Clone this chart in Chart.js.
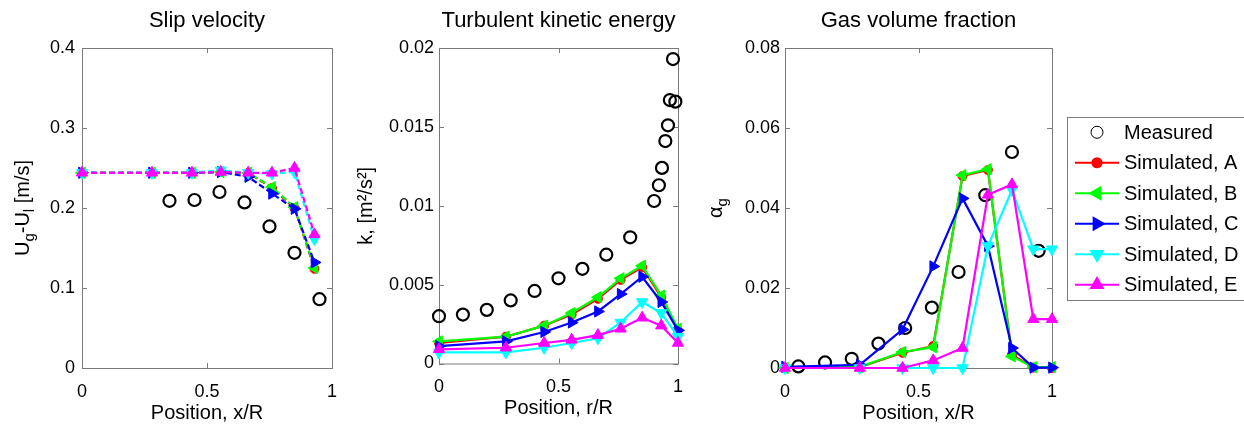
<!DOCTYPE html>
<html>
<head>
<meta charset="utf-8">
<script src="https://cdn.jsdelivr.net/npm/chart.js@4/dist/chart.umd.min.js"></script>
<style>
  body { margin: 0; background: #fff; }
  #wrap { position: relative; width: 1244px; height: 425px; overflow: hidden; }
  canvas { position: absolute; top: 0; }
</style>
</head>
<body>
<div id="wrap">
  <canvas id="slip" width="350" height="425" style="left:0;width:350px;height:425px"></canvas>
  <canvas id="tke" width="350" height="425" style="left:350px;width:350px;height:425px"></canvas>
  <canvas id="gas" width="544" height="425" style="left:700px;width:544px;height:425px"></canvas>
</div>
<script>
// positions of the simulated profiles
const posSim = [0, 0.28, 0.44, 0.555, 0.665, 0.76, 0.85, 0.93];
const posSimWall = [0, 0.28, 0.44, 0.555, 0.665, 0.76, 0.85, 0.93, 1];

// slip velocity [m/s]
const slipPosMeas = [0.35, 0.45, 0.55, 0.65, 0.75, 0.85, 0.95];
const slipMeas = [0.209, 0.210, 0.220, 0.207, 0.177, 0.144, 0.086];
const slipA = [0.244, 0.244, 0.244, 0.245, 0.244, 0.225, 0.200, 0.124];
const slipB = [0.244, 0.244, 0.244, 0.245, 0.244, 0.226, 0.201, 0.125];
const slipC = [0.244, 0.244, 0.244, 0.245, 0.239, 0.218, 0.199, 0.132];
const slipD = [0.244, 0.244, 0.244, 0.247, 0.244, 0.243, 0.245, 0.161];
const slipE = [0.244, 0.244, 0.244, 0.245, 0.244, 0.244, 0.250, 0.167];

// turbulent kinetic energy [m2/s2]
const tkePosMeas = [0, 0.1, 0.2, 0.3, 0.4, 0.5, 0.6, 0.7, 0.8, 0.9, 0.92, 0.933, 0.947, 0.958, 0.966, 0.979, 0.989];
const tkeMeas = [0.0030, 0.0031, 0.0034, 0.0040, 0.0046, 0.0054, 0.0060, 0.0069, 0.0080, 0.0103, 0.0113, 0.0124, 0.0141, 0.0151, 0.0167, 0.0193, 0.0166];
const tkeA = [0.0013, 0.0017, 0.0024, 0.0031, 0.0041, 0.0053, 0.0061, 0.0042, 0.0021];
const tkeB = [0.0014, 0.0017, 0.0024, 0.0032, 0.0042, 0.0054, 0.0062, 0.0043, 0.0022];
const tkeC = [0.0011, 0.0014, 0.0020, 0.0026, 0.0033, 0.0044, 0.0055, 0.0039, 0.0021];
const tkeD = [0.0007, 0.0007, 0.0010, 0.0013, 0.0016, 0.0026, 0.0039, 0.0032, 0.0017];
const tkeE = [0.0009, 0.0010, 0.0013, 0.0015, 0.0018, 0.0022, 0.0029, 0.0024, 0.0013];

// gas volume fraction
const gasPosMeas = [0.05, 0.15, 0.25, 0.35, 0.45, 0.55, 0.65, 0.75, 0.85, 0.95];
const gasMeas = [0.0004, 0.0014, 0.0023, 0.0061, 0.0100, 0.0151, 0.0240, 0.0432, 0.0540, 0.0293];
const gasA = [0, 0.0002, 0.0038, 0.0055, 0.0480, 0.0495, 0.0033, 0.0001, 0];
const gasB = [0, 0.0003, 0.0040, 0.0052, 0.0482, 0.0497, 0.0029, 0.0002, 0.0002];
const gasC = [0.0003, 0.0008, 0.0096, 0.0254, 0.0424, 0.0305, 0.0050, 0.0001, 0.0001];
const gasD = [0, 0, 0, 0, 0, 0.0305, 0.0445, 0.0297, 0.0297];
const gasE = [0, 0, 0, 0.0019, 0.0050, 0.0433, 0.0459, 0.0122, 0.0122];

const FONT = '"Liberation Sans", Arial, Helvetica, sans-serif';
Chart.defaults.font.family = FONT;
Chart.defaults.color = '#000';

const fmt = v => String(+Number(v).toFixed(4));

function pts(xs, ys) {
  return xs.map((x, i) => ({ x: x, y: ys[i] }));
}

function measured(xs, ys) {
  return {
    label: 'Measured', data: pts(xs, ys), showLine: false, order: 6,
    borderColor: '#000', backgroundColor: 'rgba(0,0,0,0)',
    pointStyle: 'circle', pointRadius: 6, pointBorderWidth: 2.2, clip: false
  };
}

function simulated(label, xs, ys, color, style, rot, radius, order, dashed) {
  return {
    label: label, data: pts(xs, ys), order: order,
    borderColor: color, backgroundColor: color, borderWidth: 2.2,
    borderDash: dashed ? [6, 3] : [], tension: 0,
    pointStyle: style, pointRotation: rot, pointRadius: radius,
    pointBorderWidth: 1, clip: false
  };
}

function sims(xs, a, b, c, d, e, dashed) {
  return [
    simulated('Simulated, A', xs, a, '#ff0000', 'circle', 0, 4.5, 5, dashed),
    simulated('Simulated, B', xs, b, '#00ff00', 'triangle', 270, 6.5, 4, dashed),
    simulated('Simulated, C', xs, c, '#0000ff', 'triangle', 90, 6.5, 3, dashed),
    simulated('Simulated, D', xs, d, '#00ffff', 'triangle', 180, 6.5, 2, dashed),
    simulated('Simulated, E', xs, e, '#ff00ff', 'triangle', 0, 6.5, 1, dashed)
  ];
}

// box round the plot area with short inward ticks on all four sides
const axesBox = {
  id: 'axesBox',
  beforeDatasetsDraw(chart) {
    const ctx = chart.ctx, a = chart.chartArea;
    const xs = chart.scales.x, ys = chart.scales.y;
    ctx.save();
    ctx.strokeStyle = '#7a7a7a';
    ctx.lineWidth = 1;
    ctx.strokeRect(a.left + 0.5, a.top + 0.5, a.right - a.left, a.bottom - a.top);
    ctx.beginPath();
    xs.ticks.forEach(t => {
      const p = Math.round(xs.getPixelForValue(t.value)) + 0.5;
      ctx.moveTo(p, a.bottom); ctx.lineTo(p, a.bottom - 5);
      ctx.moveTo(p, a.top); ctx.lineTo(p, a.top + 5);
    });
    ys.ticks.forEach(t => {
      const p = Math.round(ys.getPixelForValue(t.value)) + 0.5;
      ctx.moveTo(a.left, p); ctx.lineTo(a.left + 5, p);
      ctx.moveTo(a.right, p); ctx.lineTo(a.right - 5, p);
    });
    ctx.stroke();
    ctx.restore();
  }
};

// rotated y label that allows subscripts
const yLabel = {
  id: 'yLabel',
  afterDraw(chart, args, opts) {
    if (!opts.parts) return;
    const ctx = chart.ctx, a = chart.chartArea;
    ctx.save();
    ctx.translate(opts.x, (a.top + a.bottom) / 2);
    ctx.rotate(-Math.PI / 2);
    ctx.fillStyle = '#000';
    ctx.textBaseline = 'alphabetic';
    const fontOf = p => (p.sub ? '15px ' : '20px ') + FONT;
    let total = 0;
    opts.parts.forEach(p => { ctx.font = fontOf(p); total += ctx.measureText(p.text).width; });
    let pos = -total / 2;
    opts.parts.forEach(p => {
      ctx.font = fontOf(p);
      ctx.fillText(p.text, pos, p.sub ? 12 : 7);
      pos += ctx.measureText(p.text).width;
    });
    ctx.restore();
  }
};

// framed legend sitting right of the last plot
const boxLegend = {
  id: 'boxLegend',
  afterDraw(chart, args, opts) {
    if (!opts.left) return;
    const ctx = chart.ctx;
    const sets = chart.data.datasets;
    ctx.save();
    ctx.strokeStyle = '#7a7a7a';
    ctx.lineWidth = 1;
    ctx.fillStyle = '#fff';
    ctx.fillRect(opts.left, opts.top, 260, opts.row * sets.length);
    ctx.strokeRect(opts.left + 0.5, opts.top + 0.5, 260, opts.row * sets.length);
    sets.forEach((ds, i) => {
      const y = opts.top + opts.row * (i + 0.5);
      if (ds.showLine !== false) {
        ctx.strokeStyle = ds.borderColor;
        ctx.lineWidth = 2.2;
        ctx.setLineDash([]);
        ctx.beginPath();
        ctx.moveTo(opts.left + 8, y);
        ctx.lineTo(opts.left + 52, y);
        ctx.stroke();
      }
      ctx.strokeStyle = ds.borderColor;
      ctx.fillStyle = ds.backgroundColor;
      Chart.helpers.drawPoint(ctx, {
        pointStyle: ds.pointStyle, rotation: ds.pointRotation || 0,
        radius: ds.pointRadius, borderWidth: ds.pointBorderWidth
      }, opts.left + 30, y);
      ctx.fillStyle = '#000';
      ctx.font = '20px ' + FONT;
      ctx.textBaseline = 'middle';
      ctx.fillText(ds.label, opts.left + 57, y + 1);
    });
    ctx.restore();
  }
};

function makeChart(id, cfg) {
  return new Chart(document.getElementById(id), {
    type: 'line',
    data: { datasets: cfg.datasets },
    plugins: [axesBox, yLabel, boxLegend],
    options: {
      responsive: false,
      animation: false,
      events: [],
      layout: { padding: { left: 0, right: cfg.padRight, top: 0, bottom: cfg.padBottom } },
      plugins: {
        legend: { display: false },
        tooltip: { enabled: false },
        title: {
          display: true, text: cfg.title, fullSize: false,
          font: { size: 22, weight: 'normal' }, color: '#000',
          padding: { top: 8, bottom: 13.6 }
        },
        yLabel: cfg.yLabel,
        boxLegend: cfg.legend || {}
      },
      scales: {
        x: {
          type: 'linear', min: 0, max: 1,
          afterFit: s => { s.height = 57; },
          grid: { display: false, drawTicks: false },
          border: { display: false },
          ticks: { stepSize: 0.5, maxRotation: 0, padding: 13, font: { size: 18 }, color: '#000', callback: fmt },
          title: { display: true, text: cfg.xTitle, font: { size: 20 }, color: '#000', padding: { top: 1, bottom: 0 } }
        },
        y: {
          min: 0, max: cfg.yMax,
          afterFit: s => { s.width = cfg.yWidth; },
          grid: { display: false, drawTicks: false },
          border: { display: false },
          ticks: { stepSize: cfg.yStep, padding: cfg.yPad, font: { size: 18 }, color: '#000', callback: fmt }
        }
      }
    }
  });
}

makeChart('slip', {
  title: 'Slip velocity', xTitle: 'Position, x/R',
  yMax: 0.4, yStep: 0.1, yWidth: 82, yPad: 7, padRight: 12, padBottom: 0,
  yLabel: { x: 22, parts: [{ text: 'U' }, { text: 'g', sub: true }, { text: '-U' }, { text: 'l', sub: true }, { text: ' [m/s]' }] },
  datasets: [measured(slipPosMeas, slipMeas)].concat(sims(posSim, slipA, slipB, slipC, slipD, slipE, true))
});

makeChart('tke', {
  title: 'Turbulent kinetic energy', xTitle: 'Position, r/R',
  yMax: 0.02, yStep: 0.005, yWidth: 89, yPad: 5, padRight: 22, padBottom: 4.5,
  yLabel: { x: 15, parts: [{ text: 'k, [m²/s²]' }] },
  datasets: [measured(tkePosMeas, tkeMeas)].concat(sims(posSimWall, tkeA, tkeB, tkeC, tkeD, tkeE, false))
});

makeChart('gas', {
  title: 'Gas volume fraction', xTitle: 'Position, x/R',
  yMax: 0.08, yStep: 0.02, yWidth: 85, yPad: 5, padRight: 192, padBottom: 0,
  yLabel: { x: 15, parts: [{ text: 'α' }, { text: 'g', sub: true }] },
  legend: { left: 367, top: 117, row: 30.5 },
  datasets: [measured(gasPosMeas, gasMeas)].concat(sims(posSimWall, gasA, gasB, gasC, gasD, gasE, false))
});
</script>
</body>
</html>
